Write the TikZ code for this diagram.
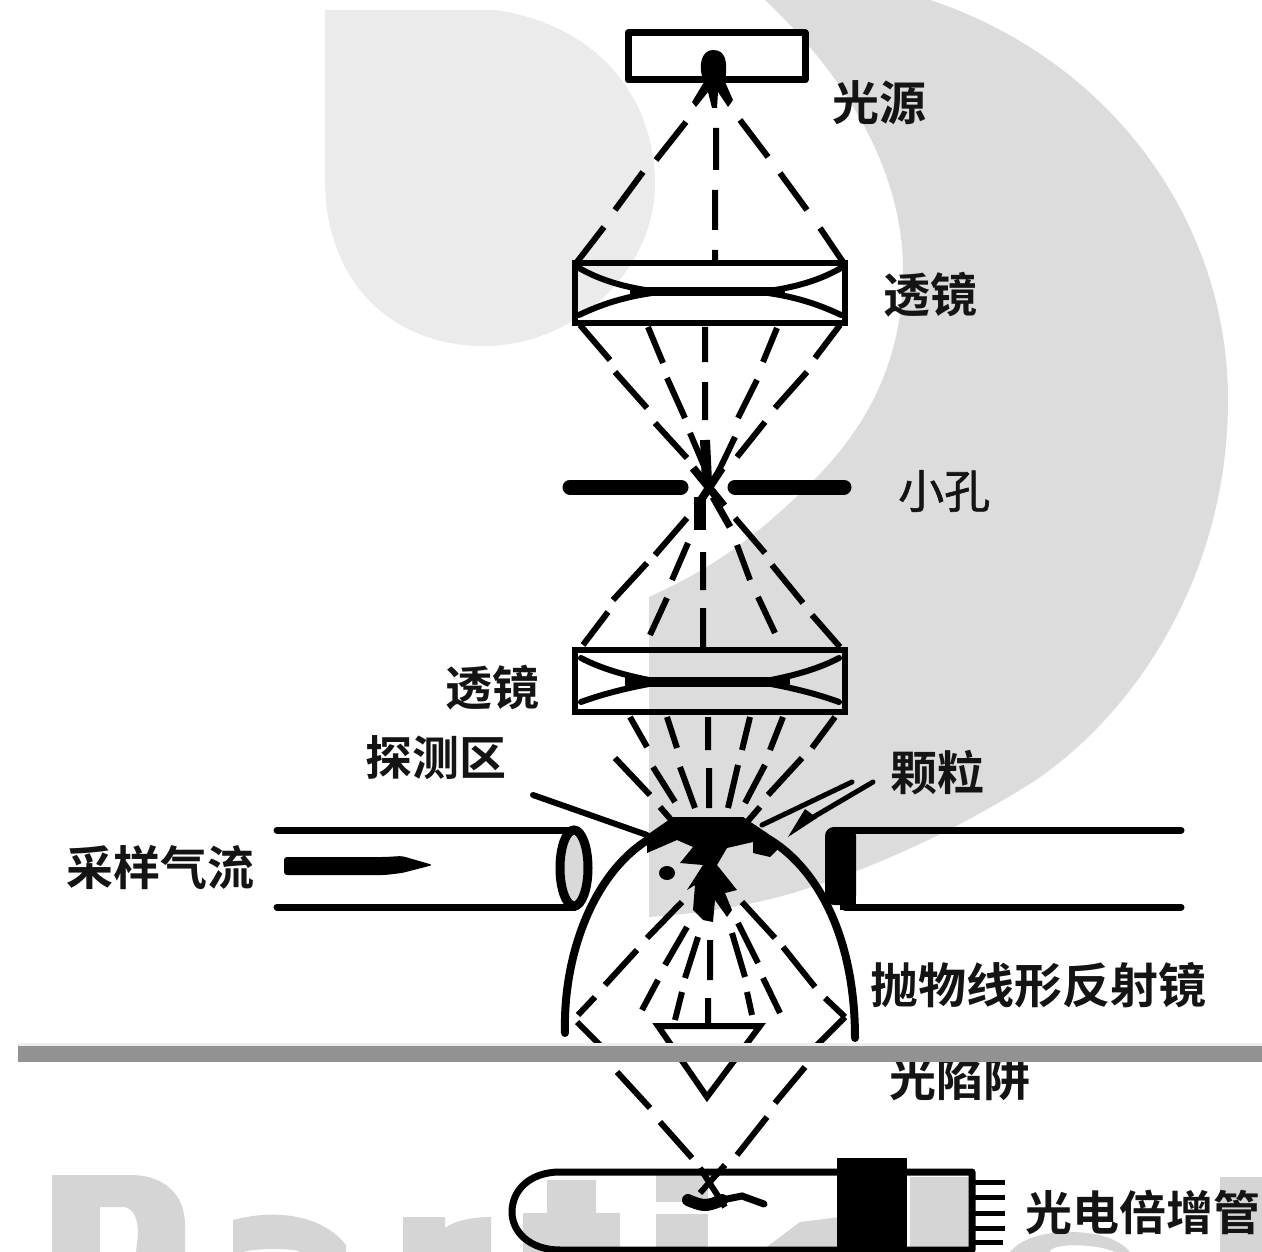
\documentclass[tikz,border=0pt]{standalone}
\usepackage{fontspec}
\newfontfamily\cjk{Noto Sans CJK SC}[BoldFont={Noto Sans CJK SC Bold}]
\newfontfamily\cjkmid{Noto Sans CJK SC}[FakeBold=1.2]
\definecolor{wmlight}{HTML}{EBEBEB}
\definecolor{wmdark}{HTML}{DCDCDC}
\definecolor{wmlet}{HTML}{D5D5D5}
\definecolor{bandc}{HTML}{929292}
\definecolor{bandl}{HTML}{EEEEEE}
\tikzset{
 ray/.style={line width=6pt,line cap=butt,black},
 rim/.style={line width=7pt,black,line cap=round,line join=round},
 lens/.style={line width=6pt,black,line cap=round},
 lab/.style={inner sep=0pt,font=\cjk\bfseries\fontsize{47}{47}\selectfont,text=black!92},
 labwide/.style={inner sep=0pt,font=\cjk\bfseries\fontsize{48}{48}\selectfont,text=black!92},
 labthin/.style={inner sep=0pt,font=\cjkmid\fontsize{46}{46}\selectfont,text=black!92},
 wm/.style={fill=wmlet,draw=none},
}
\begin{document}
\begin{tikzpicture}[x=1pt,y=-1pt]
\useasboundingbox (0,0) rectangle (1262,1252);
\fill[white] (0,0) rectangle (1262,1252);
% watermark, upper
\fill[wmlight] (325,10) -- (495,10) .. controls (600,25) and (655,100) .. (655,184)
  .. controls (655,270) and (575,346) .. (484,346) .. controls (390,346) and (325,280) .. (325,180) -- cycle;
\fill[wmdark] (765,0) -- (930,0) .. controls (1110,60) and (1228,220) .. (1228,400)
  .. controls (1228,570) and (1140,710) .. (1033,782) .. controls (980,815) and (900,860) .. (793,893)
  .. controls (740,908) and (700,913) .. (649,917)
  -- (649,597) .. controls (690,578) and (735,555) .. (793,500)
  .. controls (860,440) and (903,370) .. (903,270) .. controls (903,170) and (845,75) .. (765,0) -- cycle;
% watermark, letters
\fill[wm,even odd rule] (52,1175) -- (130,1175) .. controls (165,1175) and (185,1195) .. (185,1225) -- (185,1252) -- (52,1252) -- cycle
  (100,1207) -- (125,1207) .. controls (135,1210) and (138,1220) .. (138,1235) -- (136,1252) -- (100,1252) -- cycle;
\fill[wm] (233,1220) .. controls (270,1210) and (320,1212) .. (346,1245) -- (346,1252) -- (300,1252) .. controls (295,1248) and (255,1248) .. (243,1252) -- (233,1252) -- cycle;
\fill[wm] (403,1217) -- (445,1217) -- (445,1228) .. controls (455,1220) and (475,1217) .. (491,1217) -- (491,1252) -- (403,1252) -- cycle;
\fill[wm] (547,1180) -- (596,1180) -- (596,1213) -- (620,1213) -- (620,1252) -- (523,1252) -- (523,1213) -- (547,1213) -- cycle;
\fill[wm] (656,1173) rectangle (708,1202);
\fill[wm] (656,1214) rectangle (708,1252);
\fill[wm] (760,1252) -- (800,1222) -- (840,1217) -- (840,1252) -- cycle;
\fill[wm] (910,1177) rectangle (970,1252);
\fill[wm] (1010,1252) .. controls (1020,1240) and (1040,1232) .. (1070,1232) .. controls (1100,1232) and (1120,1240) .. (1130,1252) -- (1115,1252) .. controls (1095,1243) and (1050,1243) .. (1050,1252) -- cycle;
\fill[wm] (1220,1177) rectangle (1262,1252);

% light source
\draw[rim] (628,33) rectangle (805,80);
\fill[black] (713,50) .. controls (726,50) and (728,62) .. (725,82) -- (733,100) -- (728,107) -- (718,92) -- (717,108) -- (712,108) -- (708,92) -- (696,107) -- (692,102) -- (704,82) .. controls (697,65) and (702,50) .. (713,50) -- cycle;
\draw[ray] (686,122)--(656,160) (643,172)--(615,210) (604,227)--(577,262)
 (740,120)--(768,157) (780,173)--(807,210) (820,228)--(843,262)
 (716,128)--(716,170) (715,190)--(715,230) (715,250)--(715,262);
\node[lab,anchor=west] (lsource) at (832,103) {光源};

% lens 1
\draw[lens] (575,263) rectangle (845,323);
\draw[lens] (579,268) .. controls (600,280) and (625,288) .. (660,292) -- (760,292) .. controls (795,288) and (820,280) .. (841,268);
\draw[lens] (579,315) .. controls (600,305) and (625,296) .. (660,292) (760,292) .. controls (795,296) and (820,305) .. (841,315);
\draw[line width=9pt,black] (630,292)--(785,292);
\node[lab,anchor=west] (lens1) at (883,295) {透镜};

% rays to pinhole
\draw[ray] (580,325)--(610,360) (615,372)--(647,408) (655,423)--(687,458)
 (648,327)--(663,363) (667,378)--(685,418) (690,433)--(707,473)
 (705,327)--(705,362) (705,382)--(705,420)
 (777,328)--(763,362) (757,380)--(738,418) (735,437)--(713,483)
 (840,325)--(815,358) (807,372)--(775,408) (765,422)--(737,457);
\draw[line width=10pt,black] (705,440)--(707,482);
% pinhole
\draw[line width=15pt,black,line cap=round] (570,487)--(681,487) (735,487)--(844,487);
\draw[line width=8pt,black] (693,468)--(724,506) (722,468)--(697,506);
\draw[line width=12pt,black] (700,497)--(700,530);
\draw[line width=7pt,black] (713,497)--(730,527);
\node[labthin,anchor=west] (pin) at (898,491) {小孔};
% rays to lens 2
\draw[ray] (687,518)--(655,555) (647,563)--(613,600) (608,612)--(583,645)
 (688,543)--(672,580) (667,598)--(650,635)
 (703,552)--(703,590) (703,608)--(703,648)
 (737,545)--(750,580) (758,597)--(775,633)
 (735,518)--(765,553) (772,565)--(803,603) (812,615)--(840,647);
% lens 2
\draw[lens] (575,650) rectangle (845,712);
\draw[lens] (581,658) .. controls (600,668) and (625,676) .. (660,682) -- (760,682) .. controls (795,676) and (820,668) .. (839,658);
\draw[lens] (581,702) .. controls (600,695) and (625,688) .. (660,682) (760,682) .. controls (795,688) and (820,695) .. (839,702);
\draw[line width=10pt,black] (625,682)--(790,682);
\node[lab,anchor=west] (lens2) at (445,688) {透镜};
% rays below lens 2
\draw[ray] (630,717)--(647,747) (667,717)--(677,748) (708,717)--(708,750) (750,717)--(742,750) (783,717)--(770,750) (835,717)--(812,748)
 (615,758)--(650,795) (653,767)--(675,802) (680,767)--(695,808) (709,768)--(709,808) (738,765)--(728,808) (765,765)--(745,803) (802,758)--(768,795)
 (660,807)--(673,822) (760,807)--(747,822);
\node[lab,anchor=west] (detect) at (365,758) {探测区};
\node[lab,anchor=west] (part) at (890,773) {颗粒};

% pipes
\draw[rim] (277,830)--(575,830) (277,907)--(575,907);
\draw[line width=9pt,black,fill=black!15] (574,868) ellipse [x radius=14, y radius=38];
\draw[rim] (835,830)--(1181,830) (845,907)--(1181,907);
\fill[black,rounded corners=9pt] (825,827) rectangle (856,905);
\fill[black] (840,895) rectangle (856,910);
\node[lab,anchor=east] (flowlab) at (255,868) {采样气流};
\fill[black,rounded corners=3pt] (284,857) -- (385,857) -- (402,856) -- (433,865) -- (402,873) -- (385,875) -- (284,875) -- cycle;

% reflector
\draw[line width=8pt,black,line cap=round] (565,1033) .. controls (563,960) and (590,880) .. (643,843) .. controls (665,828) and (690,823) .. (713,823) .. controls (785,823) and (855,900) .. (855,1038);
\fill[black] (647,853) -- (677,840) -- (693,847) -- (680,863) -- (703,865) -- (687,890) -- (695,885) -- (693,910) -- (703,920) -- (713,922) -- (715,900) -- (727,917) -- (732,910) -- (725,893) -- (737,890) -- (717,865) -- (727,848) -- (753,842) -- (753,853) -- (770,857) -- (780,847) -- (767,833) -- (743,817) -- (673,817) -- (647,835) -- cycle;
\fill[black] (667,873) ellipse [x radius=8, y radius=7];
% pointers
\draw[line width=6pt,black,line cap=round] (533,795)--(647,835);
\draw[line width=5pt,black,line cap=round] (852,782)--(762,825);
\draw[line width=5pt,black,line cap=round] (873,782)--(805,822);
\fill[black] (788,837) -- (805,809) -- (817,818) -- cycle;
\node[labwide,anchor=west] (mirror) at (870,985) {抛物线形反射镜};

% rays below reflector
\draw[ray] (682,902)--(647,938) (637,950)--(605,985) (595,997)--(578,1015) (577,1022)--(600,1045)
 (617,1072)--(650,1108) (660,1122)--(692,1158)
 (687,927)--(665,965) (658,980)--(642,1010)
 (698,937)--(685,978) (682,992)--(675,1020)
 (710,940)--(710,980) (708,998)--(708,1023)
 (732,933)--(745,977) (747,992)--(752,1015)
 (738,923)--(758,963) (763,978)--(780,1013)
 (742,902)--(775,938) (783,947)--(815,987) (825,998)--(845,1017) (845,1017)--(817,1045)
 (805,1067)--(775,1103) (767,1117)--(737,1155)
 (700,1168)--(725,1207) (725,1165)--(700,1193);
% light trap
\draw[line width=6pt,black,line join=miter] (658,1026)--(760,1026)--(707,1097)--cycle;
\draw[line width=5pt,black] (753,1045)--(787,1045);
\node[lab,anchor=west] (trap) at (889,1079) {光陷阱};

% photomultiplier
\draw[rim] (972,1172) -- (560,1172) .. controls (530,1172) and (512,1190) .. (512,1212) .. controls (512,1232) and (530,1250) .. (560,1250) -- (972,1250) -- cycle;
\fill[black] (837,1158) rectangle (907,1252);
\draw[line width=12pt,black,line cap=round] plot[smooth,tension=.7] coordinates {(688,1200) (705,1205) (722,1200)};
\draw[line width=7pt,black,line cap=round] (722,1200)--(742,1196)--(764,1204);
\draw[line width=5pt,black] (975,1182)--(1005,1182) (975,1197)--(1005,1197) (975,1213)--(1005,1213) (975,1228)--(1005,1228) (975,1242)--(1003,1242);
\node[lab,anchor=west] (pmt) at (1025,1212) {光电倍增管};

% band across the page
\fill[bandl] (18,1043) rectangle (1262,1047);
\fill[bandc] (18,1046) rectangle (1262,1062);
\end{tikzpicture}
\end{document}
